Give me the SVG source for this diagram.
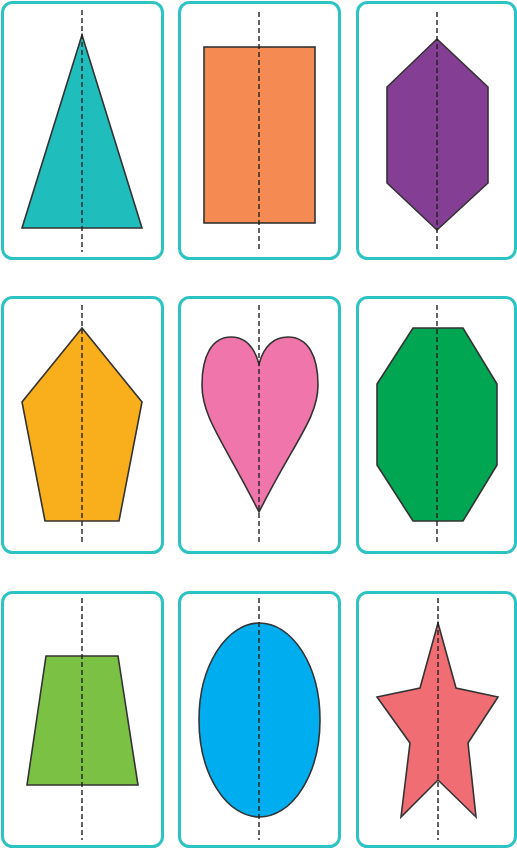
<svg xmlns="http://www.w3.org/2000/svg" width="517" height="849" viewBox="0 0 517 849">
<style>
.card{fill:#fff;stroke:#2EC3C3;stroke-width:3}
.shape{stroke:#333;stroke-width:1.6;stroke-linejoin:miter}
.axis{stroke:#222;stroke-width:1.4;stroke-dasharray:5 3;fill:none}
</style>
<rect width="517" height="849" fill="#fff"/>
<g id="card-triangle">
<rect class="card" x="2.5" y="2.5" width="160" height="256" rx="10"/>
<polygon class="shape" fill="#20BDBD" points="82,35 142,228 22,228"/>
<line class="axis" x1="82" y1="10" x2="82" y2="252"/>
</g>
<g id="card-rectangle">
<rect class="card" x="179.5" y="2.5" width="160" height="256" rx="10"/>
<rect class="shape" fill="#F58B52" x="204" y="47" width="111" height="176"/>
<line class="axis" x1="259" y1="12" x2="259" y2="252"/>
</g>
<g id="card-hexagon">
<rect class="card" x="357.5" y="2.5" width="158" height="256" rx="10"/>
<polygon class="shape" fill="#843E94" points="437,39 488,87 488,183 437,230 387,183 387,87"/>
<line class="axis" x1="437" y1="12" x2="437" y2="252"/>
</g>
<g id="card-pentagon">
<rect class="card" x="2.5" y="297.5" width="160" height="255" rx="10"/>
<polygon class="shape" fill="#F9AE1B" points="82,328 142,402 119,521 45,521 22,402"/>
<line class="axis" x1="82" y1="305" x2="82" y2="545"/>
</g>
<g id="card-heart">
<rect class="card" x="179.5" y="297.5" width="160" height="255" rx="10"/>
<path class="shape" fill="#F075AA" d="M259,364 C254,346 244,337 231,337 C212,337 202,356 202,385 C202,418 224,442 259,512 C294,442 318,418 318,385 C318,356 308,337 288,337 C274,337 264,346 259,364 Z"/>
<line class="axis" x1="259" y1="305" x2="259" y2="545"/>
</g>
<g id="card-octagon">
<rect class="card" x="357.5" y="297.5" width="158" height="255" rx="10"/>
<polygon class="shape" fill="#00A651" points="413,328 463,328 497,384 497,465 463,521 413,521 377,465 377,384"/>
<line class="axis" x1="437" y1="305" x2="437" y2="545"/>
</g>
<g id="card-trapezoid">
<rect class="card" x="2.5" y="592.5" width="160" height="254" rx="10"/>
<polygon class="shape" fill="#7BC143" points="46,656 118,656 138,785 27,785"/>
<line class="axis" x1="82" y1="598" x2="82" y2="840"/>
</g>
<g id="card-ellipse">
<rect class="card" x="179.5" y="592.5" width="160" height="254" rx="10"/>
<ellipse class="shape" fill="#00AEEF" cx="259.5" cy="720" rx="60.5" ry="97"/>
<line class="axis" x1="259" y1="598" x2="259" y2="840"/>
</g>
<g id="card-star">
<rect class="card" x="357.5" y="592.5" width="158" height="254" rx="10"/>
<polygon class="shape" fill="#F16D74" points="438,623 456,688 498,697 468,743 476,817 438,780 401,817 410,743 377,697 420,688"/>
<line class="axis" x1="438" y1="598" x2="438" y2="840"/>
</g>
</svg>
